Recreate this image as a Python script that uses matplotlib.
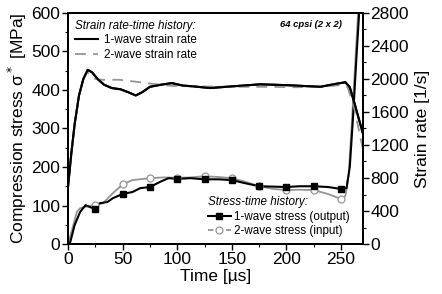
import matplotlib
matplotlib.use('Agg')
import matplotlib.pyplot as plt
from matplotlib.ticker import MultipleLocator

plt.rcParams['font.family'] = ['Liberation Sans', 'DejaVu Sans']

# strain rate histories [1/s]
t_rate1 = [0, 3, 6, 10, 14, 18, 22, 27, 33, 40, 48, 55, 62, 68, 75, 85, 95, 105, 115,
           130, 150, 176, 200, 231, 245, 254, 258, 262, 266, 270]
rate1 = [700, 1100, 1450, 1800, 2000, 2110, 2080, 2000, 1930, 1890, 1875, 1840, 1800, 1840,
         1905, 1930, 1950, 1920, 1910, 1890, 1910, 1935, 1925, 1905, 1940, 1960, 1900, 1720,
         1530, 1340]
t_rate2 = [0, 3, 6, 10, 14, 17, 25, 32, 40, 47, 60, 75, 96, 120, 150, 180, 210, 235, 250,
           256, 262, 266, 270]
rate2 = [700, 1100, 1450, 1800, 2000, 2085, 2000, 1990, 1990, 1990, 1970, 1945, 1915, 1910,
         1905, 1905, 1900, 1910, 1925, 1900, 1650, 1400, 1150]

# stress histories [MPa]
t_s1 = [0, 2, 6, 11, 16, 20, 25, 29, 36, 41, 50, 59, 66, 75, 84, 92, 100, 112, 125, 138,
        150, 162, 175, 188, 200, 212, 225, 238, 250, 255, 258, 261, 264, 267, 270]
s1 = [0, 5, 49, 83, 101, 96, 91, 106, 109, 119, 130, 135, 145, 148, 161, 171, 169, 171, 168,
      168, 166, 158, 150, 149, 148, 150, 150, 148, 143, 145, 200, 330, 480, 620, 700]
t_s2 = [0, 3, 8, 11, 15, 20, 25, 32, 41, 50, 59, 75, 88, 100, 112, 125, 138, 150, 162, 175,
        188, 200, 212, 225, 238, 250, 254, 257, 260, 263, 266, 270]
s2 = [0, 30, 83, 93, 96, 99, 101, 106, 132, 155, 166, 171, 173, 172, 173, 176, 174, 171, 162,
      150, 143, 140, 141, 140, 130, 117, 125, 180, 320, 470, 620, 700]

mark_t = [25, 50, 75, 100, 125, 150, 175, 200, 225, 250]
mark_s1 = [91, 130, 148, 169, 168, 166, 150, 148, 150, 143]
mark_s2 = [101, 155, 171, 172, 176, 171, 150, 140, 140, 117]

fig = plt.figure(figsize=(4.42, 2.94), dpi=100)
ax = fig.add_axes([0.154, 0.170, 0.667, 0.786])
ax2 = ax.twinx()

gray = '#959595'
ax.plot(t_s2, s2, color=gray, lw=1.3)
ax.plot(t_s1, s1, color='black', lw=1.5)
ax.plot(mark_t, mark_s2, 'o', color=gray, mfc='white', ms=5, mew=0.9)
ax.plot(mark_t, mark_s1, 's', color='black', ms=4.5)
h1, = ax.plot([], [], '-s', color='black', lw=1.5, ms=4.5)
h2, = ax.plot([], [], '--o', color=gray, mfc='white', lw=1.3, ms=5, mew=0.9, dashes=(3, 2))

r1, = ax2.plot(t_rate1, rate1, color='black', lw=1.5)
r2, = ax2.plot(t_rate2, rate2, color=gray, lw=1.3, ls=(0, (6, 4)))
ax2.plot(t_rate1, rate1, color='black', lw=1.5)

ax.set_xlim(0, 270)
ax.set_ylim(0, 600)
ax2.set_ylim(0, 2800)
ax.xaxis.set_major_locator(MultipleLocator(50))
ax.xaxis.set_minor_locator(MultipleLocator(25))
ax.yaxis.set_major_locator(MultipleLocator(100))
ax.yaxis.set_minor_locator(MultipleLocator(50))
ax2.yaxis.set_major_locator(MultipleLocator(400))
ax2.yaxis.set_minor_locator(MultipleLocator(200))

for a in (ax, ax2):
    a.tick_params(which='major', direction='out', length=4, width=1, labelsize=12.5, pad=1.5)
    a.tick_params(which='minor', direction='out', length=2.5, width=0.8)
    for sp in a.spines.values():
        sp.set_linewidth(1.4)

ax.set_xlabel('Time [µs]', fontsize=12.5, labelpad=2)
ax.set_ylabel('Compression stress σ$^*$ [MPa]', fontsize=12.5, labelpad=2)
ax2.set_ylabel('Strain rate [1/s]', fontsize=12.5, labelpad=4)

leg1 = ax2.legend([r1, r2], ['1-wave strain rate', '2-wave strain rate'],
                  title='Strain rate-time history:', loc='upper left', frameon=False,
                  fontsize=8.4, title_fontsize=8.4, handlelength=2.0, handletextpad=0.5,
                  labelspacing=0.2, borderaxespad=0.2, alignment='left',
                  bbox_to_anchor=(0.0, 1.0))
leg1.get_title().set_fontstyle('italic')

leg2 = ax2.legend([h1, h2], ['1-wave stress (output)', '2-wave stress (input)'],
                  title='Stress-time history:', loc='lower right', frameon=False,
                  fontsize=8.4, title_fontsize=8.4, handlelength=2.0, handletextpad=0.3,
                  labelspacing=0.2, borderaxespad=0.2, alignment='left',
                  bbox_to_anchor=(0.98, 0.0))
leg2.get_title().set_fontstyle('italic')
ax2.add_artist(leg1)

ax.text(0.93, 0.948, '64 cpsi (2 x 2)', transform=ax.transAxes, ha='right', va='center',
        fontsize=6.8, fontweight='bold', fontstyle='italic')

fig.savefig('out.png', dpi=100)
